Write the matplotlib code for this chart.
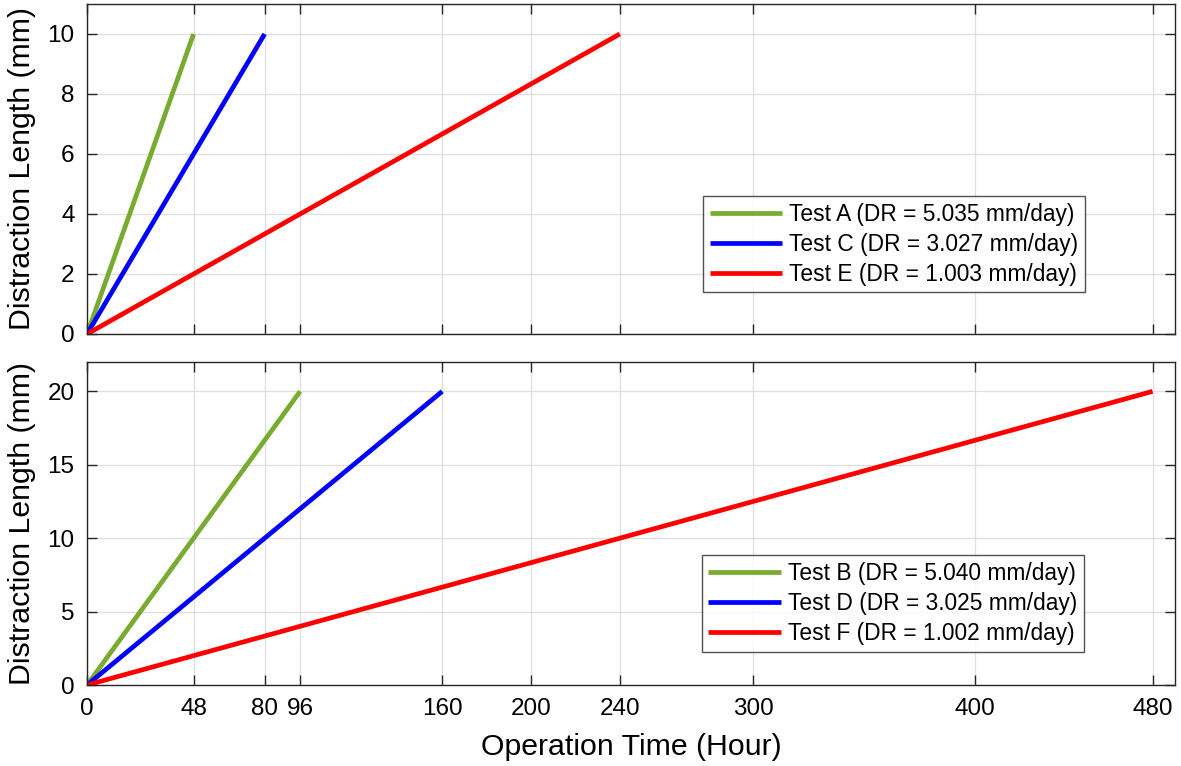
import matplotlib
matplotlib.use("Agg")
import matplotlib.pyplot as plt

plt.rcParams['font.family'] = ['Liberation Sans', 'DejaVu Sans']

# Data
top_labels = ["Test A (DR = 5.035 mm/day)", "Test C (DR = 3.027 mm/day)", "Test E (DR = 1.003 mm/day)"]
top_x = [[0, 48], [0, 80], [0, 240]]
top_y = [[0, 10], [0, 10], [0, 10]]

bot_labels = ["Test B (DR = 5.040 mm/day)", "Test D (DR = 3.025 mm/day)", "Test F (DR = 1.002 mm/day)"]
bot_x = [[0, 96], [0, 160], [0, 480]]
bot_y = [[0, 20], [0, 20], [0, 20]]

colors = ["#77AC30", "#0000FF", "#FF0000"]
xticks = [0, 48, 80, 96, 160, 200, 240, 300, 400, 480]
top_yticks = [0, 2, 4, 6, 8, 10]
bot_yticks = [0, 5, 10, 15, 20]

fig = plt.figure(figsize=(11.81, 7.66), dpi=100)
ax1 = fig.add_axes([0.0737, 0.564, 0.921, 0.4308])
ax2 = fig.add_axes([0.0737, 0.1057, 0.921, 0.4217])

def style(ax):
    ax.set_xlim(0, 490)
    ax.set_xticks(xticks)
    ax.grid(True, color="#dedede", linewidth=0.9)
    ax.set_axisbelow(True)
    ax.tick_params(direction="in", top=True, right=True, length=7, width=1,
                   color="#262626", labelsize=17.5, pad=9)
    for s in ax.spines.values():
        s.set_color("#262626")
        s.set_linewidth(1.0)

leg_kw = dict(loc="upper left", fontsize=16.4, frameon=True, fancybox=False,
              edgecolor="#262626", handlelength=3.2, handletextpad=0.3,
              borderpad=0.3, labelspacing=0.3, borderaxespad=0)

for xs, ys, c, lab in zip(top_x, top_y, colors, top_labels):
    ax1.plot(xs, ys, color=c, linewidth=3.4, label=lab, solid_capstyle="butt")
style(ax1)
ax1.set_ylim(0, 11)
ax1.set_yticks(top_yticks)
ax1.tick_params(labelbottom=False)
ax1.set_ylabel("Distraction Length (mm)", fontsize=21.8, labelpad=8)
leg1 = ax1.legend(bbox_to_anchor=(0.566, 0.418), **leg_kw)
leg1.get_frame().set_linewidth(1.0)

for xs, ys, c, lab in zip(bot_x, bot_y, colors, bot_labels):
    ax2.plot(xs, ys, color=c, linewidth=3.4, label=lab, solid_capstyle="butt")
style(ax2)
ax2.set_ylim(0, 22)
ax2.set_yticks(bot_yticks)
ax2.set_ylabel("Distraction Length (mm)", fontsize=21.8, labelpad=8)
ax2.set_xlabel("Operation Time (Hour)", fontsize=21.8, labelpad=10)
leg2 = ax2.legend(bbox_to_anchor=(0.565, 0.402), **leg_kw)
leg2.get_frame().set_linewidth(1.0)

fig.savefig("out.png", dpi=100)
